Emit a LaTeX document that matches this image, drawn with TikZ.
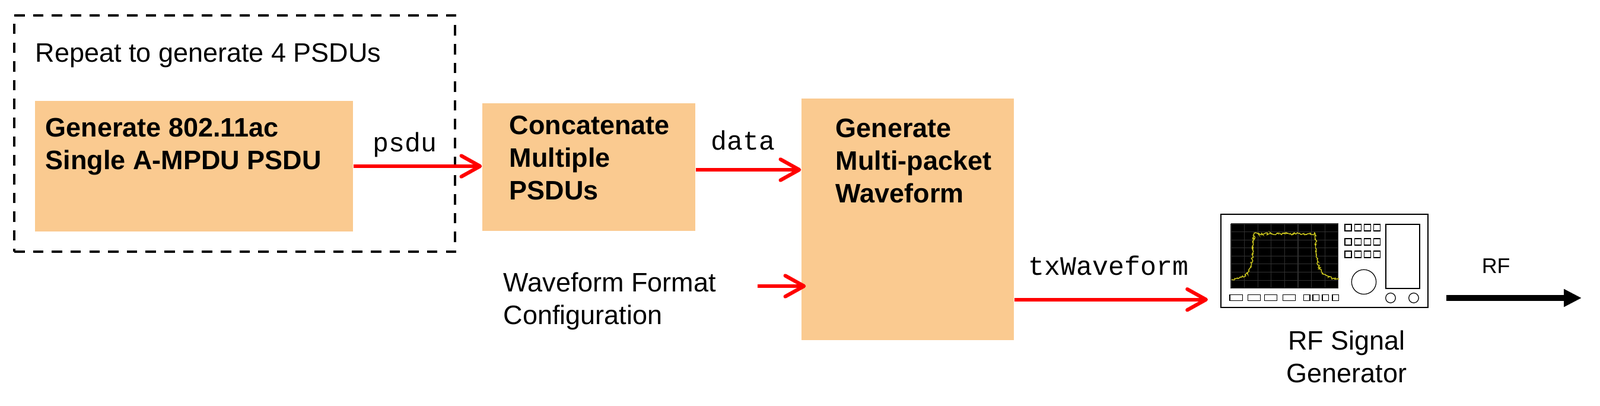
\documentclass[tikz,border=0pt]{standalone}
\usepackage{fontspec}
\setmainfont{Liberation Sans}
\setmonofont{Liberation Mono}
\usetikzlibrary{arrows.meta,calc,decorations.pathmorphing}

\definecolor{blockfill}{RGB}{250,202,144}
\definecolor{traceyellow}{RGB}{205,200,30}
\definecolor{screengrid}{RGB}{48,48,48}

\tikzset{
  block/.style={fill=blockfill, inner sep=0pt},
  plain/.style={font=\fontsize{12.8}{15.65}\selectfont, inner sep=0pt, align=left},
  blocktext/.style={plain, font=\fontsize{12.8}{15.65}\selectfont\bfseries},
  varname/.style={font=\fontsize{12.8}{15}\selectfont\ttfamily, inner sep=0pt},
  sig/.style={draw=red, line width=1.75pt, -{Straight Barb[length=9pt,width=10pt,round,line width=1.75pt]}},
  rfarrow/.style={draw=black, line width=2.85pt, -{Triangle[length=8.5pt,width=8pt]}},
  panel/.style={draw, line width=0.35pt}
}

\begin{document}
\begin{tikzpicture}
  \useasboundingbox (0,0) rectangle (26.97,6.83);

  % repeated part
  \node[draw, line width=1.3pt, dash pattern=on 5pt off 4pt, minimum width=7.43cm, minimum height=3.98cm] (repeat) at (3.955,4.58) {};
  \node[plain, anchor=base west] (repeattxt) at (0.59,5.79) {Repeat to generate 4 PSDUs};

  % base = baseline of the last line
  \node[block, minimum width=5.36cm, minimum height=2.2cm] (genpsdu) at (3.27,4.03) {};
  \node[blocktext, anchor=base west] (genpsdutxt) at (0.76,3.98) {Generate 802.11ac\\Single A-MPDU PSDU};

  \node[block, minimum width=3.59cm, minimum height=2.15cm] (concat) at (9.925,4.015) {};
  \node[blocktext, anchor=base west] (concattxt) at (8.58,3.47) {Concatenate\\Multiple\\PSDUs};

  \node[block, minimum width=3.58cm, minimum height=4.07cm] (genwave) at (15.30,3.135) {};
  \node[blocktext, anchor=base west] (genwavetxt) at (14.08,3.42) {Generate\\Multi-packet\\Waveform};

  \node[plain, anchor=base west] (wfctxt) at (8.48,1.37) {Waveform Format\\Configuration};
  \coordinate (wfcin) at (12.77,2.01);

  % signal generator
  \node[draw, line width=0.6pt, minimum width=3.49cm, minimum height=1.57cm, inner sep=0pt] (siggen) at (22.325,2.435) {};
  \node[plain, align=center, anchor=base] (siggentxt) at (22.70,0.39) {RF Signal\\Generator};

  \begin{scope}[shift={(siggen.north west)}]
    \fill[black] (0.18,-0.17) rectangle (1.99,-1.26);
    \begin{scope}[shift={(0.18,-0.17)}]
      \draw[screengrid, line width=0.3pt, xstep=0.226, ystep=0.136] (0,-1.09) grid (1.81,0);
    \end{scope}
    \draw[traceyellow, line width=0.4pt, decorate, decoration={random steps, segment length=0.5pt, amplitude=0.55pt}]
      (0.19,-1.11) -- (0.36,-1.07) .. controls (0.50,-1.0) and (0.54,-0.9) .. (0.55,-0.6)
      -- (0.57,-0.34) -- (1.60,-0.34) -- (1.62,-0.6) .. controls (1.63,-0.9) and (1.68,-1.0) .. (1.82,-1.07)
      -- (1.99,-1.11);
    \foreach \r in {-0.18,-0.42,-0.63}
      \foreach \i in {0,1,2,3}
        \draw[panel] (2.10+0.163*\i,\r) rectangle ++(0.11,-0.11);
    \draw[panel] (2.42,-1.15) circle (0.207);
    \draw[panel] (2.79,-0.18) rectangle (3.36,-1.26);
    \draw[panel] (2.87,-1.42) circle (0.083);
    \draw[panel] (3.26,-1.42) circle (0.083);
    \foreach \x in {0.16,0.463,0.743,1.053}
      \draw[panel] (\x,-1.367) rectangle ++(0.213,-0.1);
    \foreach \x in {1.403,1.56,1.72,1.89}
      \draw[panel] (\x,-1.367) rectangle ++(0.107,-0.1);
  \end{scope}

  % connectors
  \draw[sig] (genpsdu.east) -- node[varname, pos=.4, anchor=base, yshift=7pt] {psdu} (genpsdu.east -| concat.west);
  \draw[sig] ([yshift=-.045cm]concat.east) coordinate (dataout) -- node[varname, pos=.45, anchor=base, yshift=9.6pt] {data} (dataout -| genwave.west);
  \draw[sig, shorten >=-0.08cm] (wfcin) -- (wfcin -| genwave.west);
  \draw[sig, shorten >=0.21cm] ([yshift=.69cm]genwave.south east) coordinate (txout) -- node[varname, pos=.458, anchor=base, yshift=11.7pt] {txWaveform} (txout -| siggen.west);

  \coordinate (rfend) at (26.66,1.81);
  \draw[rfarrow] ($(siggen.east |- rfend)+(.3,0)$) -- node[plain, pos=.367, anchor=base, yshift=11.7pt, font=\fontsize{10.2}{12}\selectfont] {RF} (rfend);
\end{tikzpicture}
\end{document}
